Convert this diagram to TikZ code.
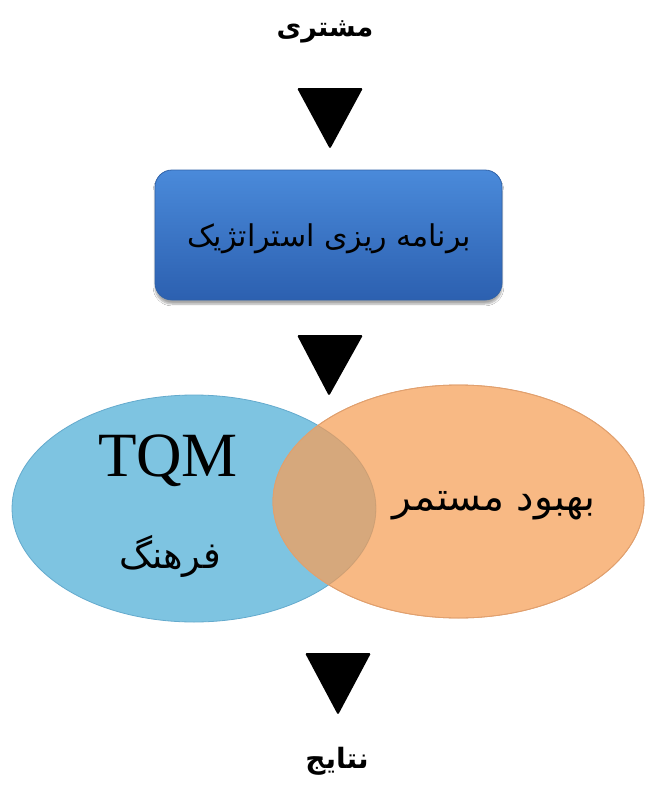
\documentclass[tikz,border=0pt]{standalone}
\usepackage{fontspec}
\setmainfont{Liberation Serif}
\newfontfamily\fa[Script=Arabic]{DejaVu Sans}
\TeXXeTstate=1
\usetikzlibrary{shapes.geometric,shadows,shadows.blur}
\definecolor{skyfill}{RGB}{126,196,225}
\definecolor{skyedge}{RGB}{100,170,205}
\definecolor{peachfill}{RGB}{248,185,132}
\definecolor{peachedge}{RGB}{225,160,110}
\definecolor{overlapfill}{RGB}{214,168,124}
\definecolor{boxtop}{RGB}{74,138,218}
\definecolor{boxbottom}{RGB}{44,96,176}
\definecolor{boxedge}{RGB}{48,98,168}
\begin{document}
\begin{tikzpicture}[x=1pt,y=-1pt,
  marker/.style={fill=black,rounded corners=1.5pt},
  fatext/.style={inner sep=0pt,text=black},
  stratbox/.style={rectangle,rounded corners=17pt,minimum width=347pt,minimum height=130pt,
     top color=boxtop,bottom color=boxbottom,draw=boxedge,line width=0.8pt,
     blur shadow={shadow xshift=0pt,shadow yshift=-4pt,shadow blur steps=6,shadow opacity=35}},
  blob/.style={ellipse,inner sep=0pt,line width=0.8pt}]
\useasboundingbox (0,0) rectangle (648,787);
\fill[white] (0,0) rectangle (648,787);

% top label
\node[fatext,font=\fa\bfseries\fontsize{27}{30}\selectfont] (customer) at (325,32) {\beginR مشتری\endR};
\fill[marker] (297,88) -- (363,88) -- (330,149) -- cycle;

% strategic planning box
\node[stratbox] (plan) at (328.5,235) {};
\node[fatext,font=\fa\fontsize{30}{33}\selectfont] (plantext) at (329,239) {\beginR برنامه ریزی استراتژیک\endR};
\fill[marker] (297,335) -- (363,335) -- (329,396) -- cycle;

% ellipses
\node[blob,minimum width=364pt,minimum height=227pt,fill=skyfill,draw=skyedge] (culture) at (194,508.5) {};
\node[blob,minimum width=371pt,minimum height=233pt,fill=peachfill,draw=peachedge] (improve) at (458.5,501.5) {};
\begin{scope}
  \clip (194,508.5) ellipse [x radius=182, y radius=113.5];
  \fill[overlapfill] (458.5,501.5) ellipse [x radius=185.5, y radius=116.5];
\end{scope}
\begin{scope}
  \clip (458.5,501.5) ellipse [x radius=185.5, y radius=116.5];
  \draw[overlapfill!80!black,opacity=0.35,line width=0.8pt] (194,508.5) ellipse [x radius=182, y radius=113.5];
\end{scope}
\draw[peachedge,line width=0.8pt] (458.5,501.5) ellipse [x radius=185.5, y radius=116.5];

\node[fatext,font=\fontsize{63}{66}\selectfont] (tqm) at (168,461) {TQM};
\node[fatext,font=\fa\fontsize{37}{40}\selectfont] (culturetext) at (170,556) {\beginR فرهنگ\endR};
\node[fatext,font=\fa\fontsize{39}{42}\selectfont] (improvetext) at (494,506) {\beginR بهبود مستمر\endR};

% bottom
\fill[marker] (305,653) -- (371,653) -- (338,715) -- cycle;
\node[fatext,font=\fa\bfseries\fontsize{28}{31}\selectfont] (results) at (337,761) {\beginR نتایج\endR};
\end{tikzpicture}
\end{document}
